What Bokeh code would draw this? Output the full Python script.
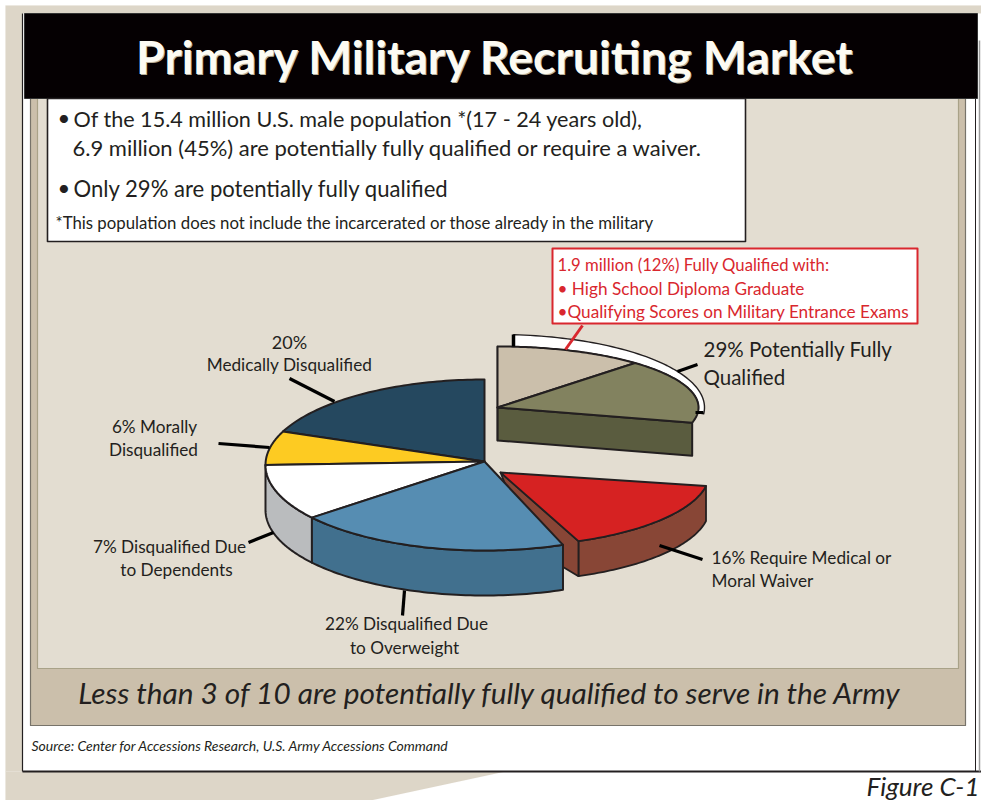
import numpy as np
from bokeh.plotting import figure
from bokeh.models import Range1d
from bokeh.core.properties import value
from bokeh.embed import file_html
from bokeh.resources import INLINE

# ---- data ----
title_text = "Primary Military Recruiting Market"
caption_text = "Less than 3 of 10 are potentially fully qualified to serve in the Army"
source_text = "Source:  Center for Accessions Research, U.S. Army Accessions Command"
figure_text = "Figure C-1"
bullet_lines = ["Of the 15.4 million U.S. male population *(17 - 24 years old),",
                "6.9 million (45%) are potentially fully qualified or require a waiver.",
                "Only 29% are potentially fully qualified"]
note_text = "*This population does not include the incarcerated or those already in the military"
red_lines = ["1.9 million (12%) Fully Qualified with:",
             "\u2022 High School Diploma Graduate",
             "\u2022Qualifying Scores on Military  Entrance Exams"]

shares = [20, 6, 7, 22, 16, 12, 17]          # percent as labelled (29% = 12 + 17)
main_names = ["Medically", "Morally", "Dependents", "Overweight"]
main_drawn_deg = [67, 23, 38, 73]            # sweeps as actually drawn in the picture
waiver_share = shares[4]
qual_shares = shares[5:7]

main_top = ["#25485f", "#fdcb22", "#ffffff", "#568db2"]
main_side = [None, None, "#babcbe", "#41708e"]
red_top, red_side = "#d62222", "#884636"
qual_top = ["#cbbfab", "#82825f"]
qual_side = "#5a5c3f"
ink = "#231f20"
red_ink = "#d9272e"
bg_frame, bg_panel, bg_light = "#ddd6c8", "#cbbfab", "#e3ddd1"

W, H = 981, 800
p = figure(width=W, height=H, x_range=Range1d(0, W), y_range=Range1d(H, 0),
           output_backend="svg", toolbar_location=None, min_border=0,
           background_fill_color="white", border_fill_color="white", outline_line_color=None)
p.axis.visible = False
p.grid.visible = False

def arc(cx, cy, rx, ry, a0, a1, dy=0.0, n=60):
    t = np.radians(np.linspace(a0, a1, n))
    return cx + rx * np.cos(t), cy - ry * np.sin(t) + dy

def poly(xs, ys, fill, line=ink, lw=1.6):
    p.patch(list(xs), list(ys), fill_color=fill, line_color=line if line else fill, line_width=lw, line_join="round")

def box(x0, y0, x1, y1, fill, line=None, lw=1.0):
    poly([x0, x1, x1, x0], [y0, y0, y1, y1], fill, line, lw if line else 0.1)

def label(x, y, s, size, font="Lato", color=ink, align="left", style="normal"):
    p.text([x], [y], text=[s], text_font=value(font), text_font_size=value(f"{size}px"),
           text_color=color, text_align=align, text_baseline="middle", text_font_style=style)

# ---- frame ----
box(5, 5, 981, 771, bg_frame)
box(22, 13, 981, 771, "white")
poly([5, 505, 370, 5], [771, 771, 800, 800], bg_frame, None, 0.1)
p.line([22, 981], [771, 771], line_color=ink, line_width=2)
p.line([22, 22], [13, 771], line_color=ink, line_width=1.2)
p.line([975, 975], [98, 771], line_color=ink, line_width=1)
p.line([979, 979], [40, 771], line_color="#9a9a9a", line_width=1.5)
box(30, 98, 965, 725, bg_panel, "#77736a", 1.2)
box(37, 98, 958, 668, bg_light, "#a9a288", 1.2)
box(24, 13, 977, 98, "#050002", "#333333", 1)
box(47, 98, 745, 241, "white", ink, 1.6)
label(496, 56.5, title_text, 46.5, "Lato", "#b9b09c", "center", "bold")
label(495, 55.5, title_text, 46.5, "Lato", "#fdfbf3", "center", "bold")
label(490, 692, caption_text, 29.8, "Lato", ink, "center", "italic")
label(31, 745, source_text, 14, "Lato", ink, "left", "italic")
label(979, 785, figure_text, 26, "Lato", ink, "right", "italic")
label(57, 117, "\u2022", 22)
label(73, 118, bullet_lines[0], 21.6)
label(72, 147, bullet_lines[1], 22)
label(57, 187, "\u2022", 22)
label(73, 188, bullet_lines[2], 22.1)
label(55, 222, note_text, 16.8)

# ---- upper, pulled-out slice group ----
qx, qy, qrx, qry, qd = 497, 407, 201, 61, 33
q_sweep = [s * 3.6 for s in qual_shares]
q_end = 90 - sum(q_sweep)
ox, oy = arc(qx, qy, 207, 73, 85.5, -5)
ix, iy = arc(qx, qy, qrx, qry, -5, 85.5)
poly(np.r_[ox, ix], np.r_[oy, iy], "white", ink, 1.4)
ax, ay = arc(qx, qy, qrx, qry, 90, q_end)
poly(np.r_[qx, ax[-1], ax[-1], qx], np.r_[qy, ay[-1], ay[-1] + qd, qy + qd], qual_side, ink, 2)
poly(np.r_[qx, qx, qx], np.r_[qy, qy - qry, qy + qd], qual_side, ink, 1.5)
start = 90
for s, col in zip(q_sweep, qual_top):
    ax, ay = arc(qx, qy, qrx, qry, start, start - s)
    poly(np.r_[qx, ax], np.r_[qy, ay], col, ink, 2)
    start -= s

# ---- red waiver slice ----
rx0, ry0, rrx, rry, rd = 500, 472, 209, 74, 35
r_start = -10.5
r_end = r_start - waiver_share * 3.6
ax, ay = arc(rx0, ry0, rrx, rry, r_start, r_end)
poly(np.r_[ax, ax[::-1]], np.r_[ay + rd, ay[::-1]], red_side, ink, 1.8)
poly([rx0, ax[-1], ax[-1], rx0 + 30], [ry0, ay[-1], ay[-1] + rd, ry0 + rd + 40], red_side, ink, 1.8)
poly(np.r_[rx0, ax], np.r_[ry0, ay], red_top, ink, 1.8)

# ---- main pie ----
cx, cy, crx, cry, cd = 484, 464.5, 219, 85.5, 45
apex_y = 461
start = 90
edges = []
for s in main_drawn_deg:
    edges.append((start, start + s))
    start += s
for (a0, a1), side in zip(edges, main_side):
    if side:
        ax, ay = arc(cx, cy, crx, cry, a0, a1)
        poly(np.r_[ax, ax[::-1]], np.r_[ay, ay[::-1] + cd], side, ink, 2)
for (a0, a1), col in zip(edges, main_top):
    ax, ay = arc(cx, cy, crx, cry, a0, a1)
    poly(np.r_[cx, ax], np.r_[apex_y, ay], col, ink, 2)

# ---- leaders ----
leaders_x = [[289, 334], [218, 269], [248, 273], [402, 404], [659, 702], [677, 697]]
leaders_y = [[378, 401], [443, 447], [542, 532], [615, 590], [545, 559], [371, 364]]
p.multi_line(leaders_x, leaders_y, line_color="black", line_width=3.2)
p.line([513, 513], [334, 346], line_color="black", line_width=3.5)
p.line([695, 703], [412, 412], line_color="black", line_width=3)
p.line([565, 582], [349, 325], line_color=red_ink, line_width=3)

# ---- labels ----
L = 17.2
label(289, 341, "20%", 18, align="center")
label(289, 364, "Medically Disqualified", L, align="center")
label(154, 426, "6% Morally", L, align="center")
label(153, 449, "Disqualified", L, align="center")
label(169, 546, "7% Disqualified Due", L, align="center")
label(176, 569, "to Dependents", L, align="center")
label(406, 623, "22% Disqualified Due", L, align="center")
label(404, 647, "to Overweight", L, align="center")
label(711, 557, "16% Require Medical or", L)
label(711, 580, "Moral Waiver", L)
label(703, 348, "29% Potentially Fully", 20.5)
label(703, 376, "Qualified", 20.5)

box(552, 248, 917, 323, "white", red_ink, 2)
label(557, 264, red_lines[0], 16.7, color=red_ink)
label(557, 288, red_lines[1], 17.2, color=red_ink)
label(557, 311, red_lines[2], 17.2, color=red_ink)

open("out.html", "w").write(file_html(p, INLINE))
